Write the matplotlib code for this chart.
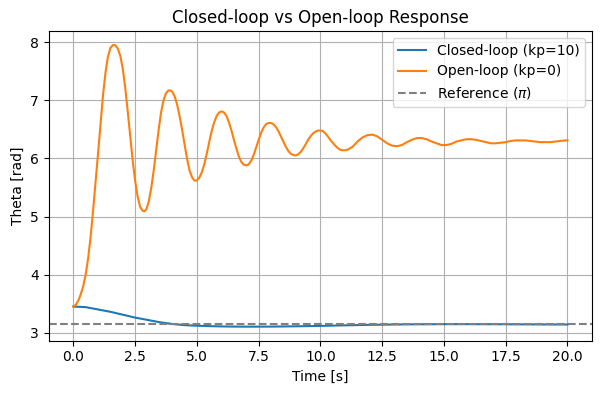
import matplotlib
matplotlib.use("Agg")
import matplotlib.pyplot as plt
import numpy as np

# closed-loop response (kp=10)
t_closed = [0.0, 0.5, 1.0, 1.5, 2.0, 2.5, 3.0, 3.5, 4.0, 4.5, 5.0, 5.5, 6.0, 6.5,
            7.0, 7.5, 8.0, 9.0, 10.0, 11.0, 12.0, 13.0, 14.0, 15.0, 16.0, 17.0,
            18.0, 19.0, 20.0]
theta_closed = [3.45, 3.44, 3.40, 3.36, 3.31, 3.26, 3.22, 3.18, 3.15, 3.13, 3.12,
                3.113, 3.108, 3.105, 3.104, 3.104, 3.105, 3.11, 3.117, 3.127,
                3.135, 3.141, 3.145, 3.147, 3.147, 3.146, 3.144, 3.142, 3.141]

# open-loop response (kp=0)
t_open = [0.0, 0.1, 0.2, 0.3, 0.4, 0.5, 0.6, 0.7, 0.8, 0.9, 1.0, 1.1, 1.2, 1.3,
          1.4, 1.5, 1.6, 1.7, 1.8, 1.9, 2.0, 2.1, 2.2, 2.3, 2.4, 2.5, 2.6, 2.7,
          2.8, 2.87, 2.95, 3.05, 3.15, 3.25, 3.35, 3.45, 3.55, 3.65, 3.75, 3.85,
          3.93, 4.0, 4.1, 4.2, 4.3, 4.4, 4.5, 4.6, 4.7, 4.8, 4.9, 5.0, 5.1, 5.2,
          5.3, 5.4, 5.5, 5.6, 5.7, 5.8, 5.9, 6.0, 6.1, 6.2, 6.3, 6.4, 6.5, 6.6,
          6.7, 6.8, 6.9, 7.0, 7.1, 7.2, 7.3, 7.4, 7.5, 7.6, 7.7, 7.8, 7.9, 8.0,
          8.1, 8.2, 8.3, 8.4, 8.5, 8.6, 8.7, 8.8, 8.9, 9.0, 9.1, 9.2, 9.3, 9.4,
          9.5, 9.6, 9.7, 9.8, 9.9, 10.0, 10.1, 10.2, 10.3, 10.4, 10.5, 10.6,
          10.7, 10.8, 10.9, 11.0, 11.1, 11.3, 11.5, 11.7, 11.9, 12.1, 12.3,
          12.5, 12.7, 12.9, 13.1, 13.3, 13.5, 13.7, 13.9, 14.1, 14.3, 14.5,
          14.7, 14.9, 15.1, 15.3, 15.5, 15.7, 15.9, 16.1, 16.3, 16.5, 16.7,
          16.9, 17.1, 17.3, 17.5, 17.7, 17.9, 18.1, 18.3, 18.5, 18.7, 18.9,
          19.1, 19.3, 19.5, 19.7, 19.9, 20.0]
theta_open = [3.45, 3.48, 3.55, 3.66, 3.80, 4.00, 4.28, 4.65, 5.10, 5.58, 6.08,
              6.57, 7.08, 7.47, 7.75, 7.90, 7.95, 7.95, 7.89, 7.77, 7.55, 7.22,
              6.82, 6.40, 5.98, 5.62, 5.35, 5.17, 5.10, 5.09, 5.12, 5.25, 5.48,
              5.78, 6.13, 6.48, 6.79, 7.00, 7.12, 7.17, 7.17, 7.15, 7.07, 6.93,
              6.73, 6.50, 6.25, 6.00, 5.80, 5.68, 5.62, 5.62, 5.67, 5.76, 5.90,
              6.08, 6.28, 6.47, 6.62, 6.73, 6.79, 6.81, 6.79, 6.73, 6.62, 6.48,
              6.32, 6.17, 6.03, 5.94, 5.89, 5.88, 5.90, 5.96, 6.06, 6.19, 6.32,
              6.44, 6.53, 6.59, 6.61, 6.61, 6.59, 6.54, 6.47, 6.38, 6.29, 6.20,
              6.13, 6.08, 6.06, 6.05, 6.07, 6.11, 6.17, 6.24, 6.32, 6.38, 6.43,
              6.46, 6.48, 6.48, 6.47, 6.43, 6.38, 6.32, 6.27, 6.22, 6.18, 6.15,
              6.14, 6.14, 6.15, 6.20, 6.29, 6.36, 6.40, 6.41, 6.38, 6.32, 6.26,
              6.22, 6.21, 6.23, 6.28, 6.32, 6.35, 6.35, 6.33, 6.29, 6.26, 6.23,
              6.23, 6.25, 6.29, 6.31, 6.33, 6.33, 6.32, 6.30, 6.28, 6.26, 6.26,
              6.27, 6.28, 6.30, 6.31, 6.31, 6.31, 6.30, 6.29, 6.28, 6.28, 6.28,
              6.29, 6.30, 6.31, 6.31]

reference = np.pi

fig, ax = plt.subplots(figsize=(6, 3.93), dpi=100)
ax.plot(t_closed, theta_closed, label='Closed-loop (kp=10)')
ax.plot(t_open, theta_open, label='Open-loop (kp=0)')
ax.axhline(reference, color='gray', linestyle='--', label=r'Reference ($\pi$)')

ax.set_title('Closed-loop vs Open-loop Response')
ax.set_xlabel('Time [s]')
ax.set_ylabel('Theta [rad]')
ax.grid(True)
ax.legend(loc='upper right')

plt.subplots_adjust(left=0.081, right=0.987, top=0.921, bottom=0.133)
plt.savefig('out.png')
